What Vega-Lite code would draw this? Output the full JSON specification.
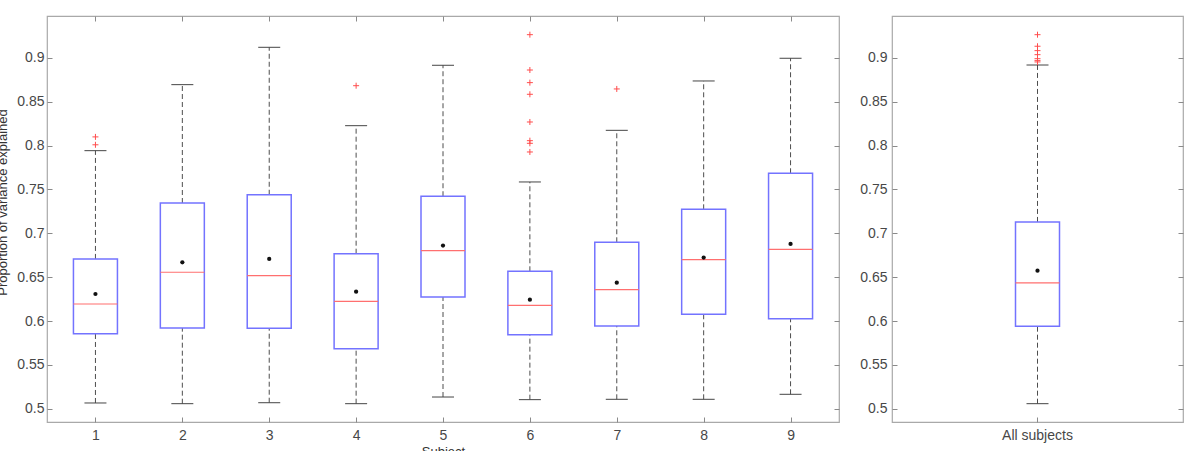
{
  "$schema": "https://vega.github.io/schema/vega-lite/v6.json",
  "padding": {"left": -5, "top": 14, "right": 5, "bottom": 0},
  "background": "white",
  "spacing": 18,
  "config": {
    "font": "Liberation Sans",
    "view": {"stroke": "#a9a9a9", "strokeWidth": 1.2},
    "axis": {
      "domain": false,
      "grid": false,
      "labelFont": "Liberation Sans",
      "labelFontSize": 14,
      "labelColor": "#474747",
      "tickColor": "#8a8a8a",
      "tickSize": -5,
      "titleFont": "Liberation Sans",
      "titleFontSize": 13,
      "titleFontWeight": "normal",
      "titleColor": "#333333"
    }
  },
  "datasets": {
    "subjects": [
      {"subject": 1, "lo": 0.5065, "q1": 0.5856, "med": 0.6194, "mean": 0.6308, "q3": 0.6708, "hi": 0.7943},
      {"subject": 2, "lo": 0.5057, "q1": 0.5920, "med": 0.6556, "mean": 0.6670, "q3": 0.7346, "hi": 0.8696},
      {"subject": 3, "lo": 0.5068, "q1": 0.5917, "med": 0.6517, "mean": 0.6708, "q3": 0.7440, "hi": 0.9122},
      {"subject": 4, "lo": 0.5057, "q1": 0.5684, "med": 0.6225, "mean": 0.6335, "q3": 0.6768, "hi": 0.8228},
      {"subject": 5, "lo": 0.5133, "q1": 0.6274, "med": 0.6802, "mean": 0.6860, "q3": 0.7423, "hi": 0.8917},
      {"subject": 6, "lo": 0.5103, "q1": 0.5844, "med": 0.6179, "mean": 0.6243, "q3": 0.6567, "hi": 0.7586},
      {"subject": 7, "lo": 0.5107, "q1": 0.5943, "med": 0.6357, "mean": 0.6437, "q3": 0.6898, "hi": 0.8175},
      {"subject": 8, "lo": 0.5107, "q1": 0.6077, "med": 0.6700, "mean": 0.6723, "q3": 0.7274, "hi": 0.8738},
      {"subject": 9, "lo": 0.5164, "q1": 0.6027, "med": 0.6818, "mean": 0.6879, "q3": 0.7685, "hi": 0.8997}
    ],
    "outliers": [
      {"subject": 1, "value": 0.8100},
      {"subject": 1, "value": 0.8010},
      {"subject": 4, "value": 0.8684},
      {"subject": 6, "value": 0.9266},
      {"subject": 6, "value": 0.8863},
      {"subject": 6, "value": 0.8719},
      {"subject": 6, "value": 0.8586},
      {"subject": 6, "value": 0.8270},
      {"subject": 6, "value": 0.8057},
      {"subject": 6, "value": 0.8027},
      {"subject": 6, "value": 0.7928},
      {"subject": 7, "value": 0.8647}
    ],
    "all": [
      {"group": "All subjects", "lo": 0.5057, "q1": 0.5940, "med": 0.6434, "mean": 0.6574, "q3": 0.7130, "hi": 0.8920}
    ],
    "alloutliers": [
      {"group": "All subjects", "value": 0.9266},
      {"group": "All subjects", "value": 0.9134},
      {"group": "All subjects", "value": 0.9084},
      {"group": "All subjects", "value": 0.9038},
      {"group": "All subjects", "value": 0.8992},
      {"group": "All subjects", "value": 0.8970},
      {"group": "All subjects", "value": 0.8955}
    ]
  },
  "hconcat": [
    {
      "width": 792,
      "height": 406,
      "layer": [
        {
          "data": {"name": "subjects"},
          "mark": {"type": "rule", "color": "#4d4d4d", "strokeDash": [5, 3]},
          "encoding": {
            "x": {"field": "subject", "type": "quantitative", "scale": {"domain": [0.5, 9.5], "nice": false, "zero": false},
                  "axis": {"orient": "bottom", "values": [1, 2, 3, 4, 5, 6, 7, 8, 9], "format": "d", "title": "Subject", "labelPadding": 11, "titlePadding": 3}},
            "y": {"field": "lo", "type": "quantitative", "scale": {"domain": [0.4848, 0.9479], "nice": false, "zero": false},
                  "axis": {"orient": "left", "values": [0.5, 0.55, 0.6, 0.65, 0.7, 0.75, 0.8, 0.85, 0.9], "format": "~g", "title": "Proportion of variance explained", "labelPadding": 8, "titleX": -38, "titleY": 186}},
            "y2": {"field": "q1"}
          }
        },
        {
          "data": {"name": "subjects"},
          "mark": {"type": "rule", "color": "#4d4d4d", "strokeDash": [5, 3]},
          "encoding": {
            "x": {"field": "subject", "type": "quantitative", "scale": {"domain": [0.5, 9.5], "nice": false, "zero": false},
                  "axis": {"orient": "top", "values": [1, 2, 3, 4, 5, 6, 7, 8, 9], "labels": false, "title": null}},
            "y": {"field": "q3", "type": "quantitative", "scale": {"domain": [0.4848, 0.9479], "nice": false, "zero": false},
                  "axis": {"orient": "right", "values": [0.5, 0.55, 0.6, 0.65, 0.7, 0.75, 0.8, 0.85, 0.9], "labels": false, "title": null}},
            "y2": {"field": "hi"}
          }
        },
        {
          "data": {"name": "subjects"},
          "mark": {"type": "tick", "orient": "horizontal", "size": 22, "thickness": 1, "color": "#444444", "opacity": 1},
          "encoding": {
            "x": {"field": "subject", "type": "quantitative", "scale": {"domain": [0.5, 9.5], "nice": false, "zero": false}, "axis": null},
            "y": {"field": "lo", "type": "quantitative", "scale": {"domain": [0.4848, 0.9479], "nice": false, "zero": false}, "axis": null}
          }
        },
        {
          "data": {"name": "subjects"},
          "mark": {"type": "tick", "orient": "horizontal", "size": 22, "thickness": 1, "color": "#444444", "opacity": 1},
          "encoding": {
            "x": {"field": "subject", "type": "quantitative", "scale": {"domain": [0.5, 9.5], "nice": false, "zero": false}, "axis": null},
            "y": {"field": "hi", "type": "quantitative", "scale": {"domain": [0.4848, 0.9479], "nice": false, "zero": false}, "axis": null}
          }
        },
        {
          "data": {"name": "subjects"},
          "mark": {"type": "bar", "size": 44, "fill": "white", "stroke": "#7373ff", "strokeWidth": 1.5},
          "encoding": {
            "x": {"field": "subject", "type": "quantitative", "scale": {"domain": [0.5, 9.5], "nice": false, "zero": false}, "axis": null},
            "y": {"field": "q1", "type": "quantitative", "scale": {"domain": [0.4848, 0.9479], "nice": false, "zero": false}, "axis": null},
            "y2": {"field": "q3"}
          }
        },
        {
          "data": {"name": "subjects"},
          "mark": {"type": "tick", "orient": "horizontal", "size": 44, "thickness": 1.2, "color": "#ff6f6f", "opacity": 1},
          "encoding": {
            "x": {"field": "subject", "type": "quantitative", "scale": {"domain": [0.5, 9.5], "nice": false, "zero": false}, "axis": null},
            "y": {"field": "med", "type": "quantitative", "scale": {"domain": [0.4848, 0.9479], "nice": false, "zero": false}, "axis": null}
          }
        },
        {
          "data": {"name": "subjects"},
          "mark": {"type": "point", "filled": true, "shape": "circle", "size": 18, "color": "#111111", "opacity": 1},
          "encoding": {
            "x": {"field": "subject", "type": "quantitative", "scale": {"domain": [0.5, 9.5], "nice": false, "zero": false}, "axis": null},
            "y": {"field": "mean", "type": "quantitative", "scale": {"domain": [0.4848, 0.9479], "nice": false, "zero": false}, "axis": null}
          }
        },
        {
          "data": {"name": "outliers"},
          "mark": {"type": "point", "filled": false, "shape": "M-1,0H1M0,-1V1", "size": 36, "stroke": "#ff4d4d", "strokeWidth": 1, "opacity": 1},
          "encoding": {
            "x": {"field": "subject", "type": "quantitative", "scale": {"domain": [0.5, 9.5], "nice": false, "zero": false}, "axis": null},
            "y": {"field": "value", "type": "quantitative", "scale": {"domain": [0.4848, 0.9479], "nice": false, "zero": false}, "axis": null}
          }
        }
      ],
      "resolve": {"axis": {"x": "independent", "y": "independent"}}
    },
    {
      "width": 291,
      "height": 406,
      "layer": [
        {
          "data": {"name": "all"},
          "mark": {"type": "rule", "color": "#4d4d4d", "strokeDash": [5, 3]},
          "encoding": {
            "x": {"field": "group", "type": "nominal", "axis": {"orient": "bottom", "labelAngle": 0, "title": null, "labelPadding": 11}},
            "y": {"field": "lo", "type": "quantitative", "scale": {"domain": [0.4848, 0.9479], "nice": false, "zero": false},
                  "axis": {"orient": "left", "values": [0.5, 0.55, 0.6, 0.65, 0.7, 0.75, 0.8, 0.85, 0.9], "format": "~g", "title": null, "labelPadding": 10}},
            "y2": {"field": "q1"}
          }
        },
        {
          "data": {"name": "all"},
          "mark": {"type": "rule", "color": "#4d4d4d", "strokeDash": [5, 3]},
          "encoding": {
            "x": {"field": "group", "type": "nominal"},
            "y": {"field": "q3", "type": "quantitative", "scale": {"domain": [0.4848, 0.9479], "nice": false, "zero": false},
                  "axis": {"orient": "right", "values": [0.5, 0.55, 0.6, 0.65, 0.7, 0.75, 0.8, 0.85, 0.9], "labels": false, "title": null}},
            "y2": {"field": "hi"}
          }
        },
        {
          "data": {"name": "all"},
          "mark": {"type": "tick", "orient": "horizontal", "size": 22, "thickness": 1, "color": "#444444", "opacity": 1},
          "encoding": {
            "x": {"field": "group", "type": "nominal"},
            "y": {"field": "lo", "type": "quantitative", "scale": {"domain": [0.4848, 0.9479], "nice": false, "zero": false}, "axis": null}
          }
        },
        {
          "data": {"name": "all"},
          "mark": {"type": "tick", "orient": "horizontal", "size": 22, "thickness": 1, "color": "#444444", "opacity": 1},
          "encoding": {
            "x": {"field": "group", "type": "nominal"},
            "y": {"field": "hi", "type": "quantitative", "scale": {"domain": [0.4848, 0.9479], "nice": false, "zero": false}, "axis": null}
          }
        },
        {
          "data": {"name": "all"},
          "mark": {"type": "bar", "size": 44, "fill": "white", "stroke": "#7373ff", "strokeWidth": 1.5},
          "encoding": {
            "x": {"field": "group", "type": "nominal"},
            "y": {"field": "q1", "type": "quantitative", "scale": {"domain": [0.4848, 0.9479], "nice": false, "zero": false}, "axis": null},
            "y2": {"field": "q3"}
          }
        },
        {
          "data": {"name": "all"},
          "mark": {"type": "tick", "orient": "horizontal", "size": 44, "thickness": 1.2, "color": "#ff6f6f", "opacity": 1},
          "encoding": {
            "x": {"field": "group", "type": "nominal"},
            "y": {"field": "med", "type": "quantitative", "scale": {"domain": [0.4848, 0.9479], "nice": false, "zero": false}, "axis": null}
          }
        },
        {
          "data": {"name": "all"},
          "mark": {"type": "point", "filled": true, "shape": "circle", "size": 18, "color": "#111111", "opacity": 1},
          "encoding": {
            "x": {"field": "group", "type": "nominal"},
            "y": {"field": "mean", "type": "quantitative", "scale": {"domain": [0.4848, 0.9479], "nice": false, "zero": false}, "axis": null}
          }
        },
        {
          "data": {"name": "alloutliers"},
          "mark": {"type": "point", "filled": false, "shape": "M-1,0H1M0,-1V1", "size": 36, "stroke": "#ff4d4d", "strokeWidth": 1, "opacity": 1},
          "encoding": {
            "x": {"field": "group", "type": "nominal"},
            "y": {"field": "value", "type": "quantitative", "scale": {"domain": [0.4848, 0.9479], "nice": false, "zero": false}, "axis": null}
          }
        }
      ],
      "resolve": {"axis": {"y": "independent"}}
    }
  ]
}
